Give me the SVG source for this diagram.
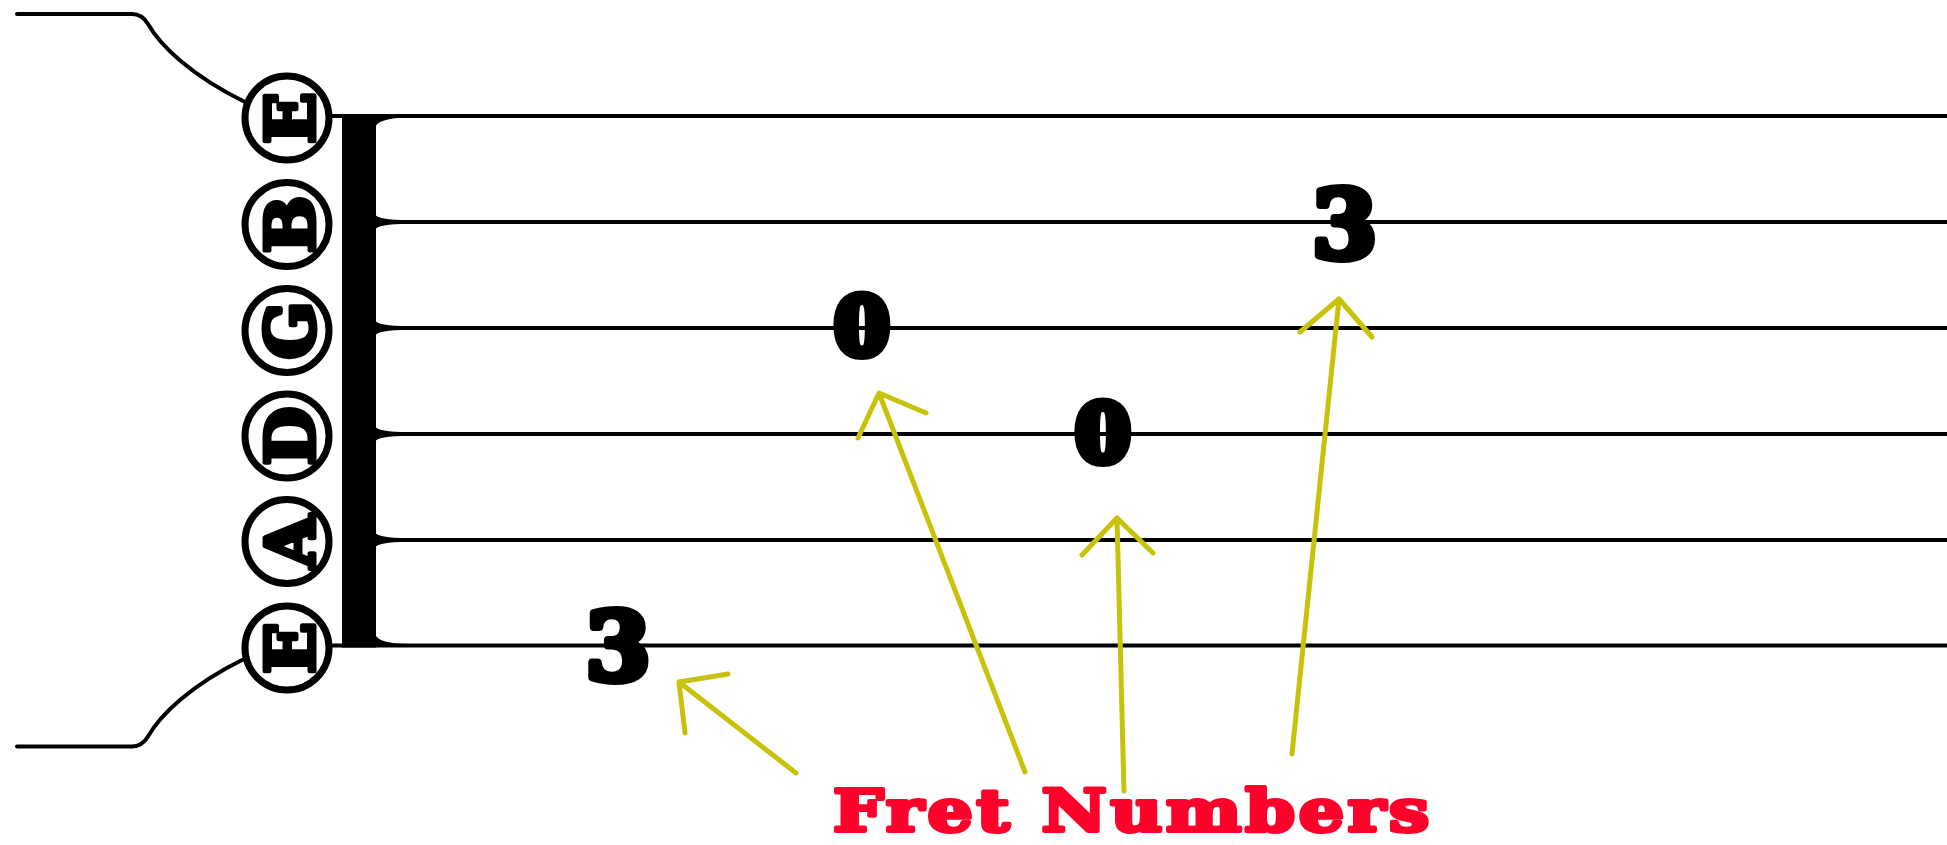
<svg xmlns="http://www.w3.org/2000/svg" width="1947" height="845" viewBox="0 0 1947 845">
  <style>
    .str { stroke: #000; stroke-width: 4; fill: none; }
    .tuner { stroke: #000; stroke-width: 4; fill: none; stroke-linecap: round; stroke-linejoin: round; }
    .ring { fill: #fff; stroke: #000; stroke-width: 7; }
    .note { font-family: "DejaVu Serif", "Liberation Serif", serif; font-weight: bold; fill: #000; stroke: #000; stroke-width: 5; stroke-linejoin: round; text-anchor: middle; font-size: 68px; }
    .fret { font-family: "DejaVu Serif", "Liberation Serif", serif; font-weight: bold; fill: #000; stroke: #000; stroke-linejoin: round; text-anchor: middle; }
    .arrow { stroke: #c8c30a; stroke-width: 5; fill: none; stroke-linecap: round; stroke-linejoin: round; }
    .label { font-family: "DejaVu Serif", "Liberation Serif", serif; font-weight: bold; fill: #ff002a; stroke: #ff002a; stroke-width: 4; stroke-linejoin: round; font-size: 58px; letter-spacing: 3px; }
  </style>
  <rect width="1947" height="845" fill="#fff"/>

  <g id="tuners">
    <path class="tuner" d="M17,14 L132,14 Q142,14 148,24 C160,45 190,75 245,102"/>
    <path class="tuner" d="M17,746.5 L132,746.5 Q142,746.5 148,736.5 C160,715.5 190,685.5 244,659"/>
  </g>

  <g id="strings">
    <line class="str" x1="330" y1="116" x2="1947" y2="116"/>
    <line class="str" x1="345" y1="222" x2="1947" y2="222"/>
    <line class="str" x1="345" y1="328" x2="1947" y2="328"/>
    <line class="str" x1="345" y1="434" x2="1947" y2="434"/>
    <line class="str" x1="345" y1="540" x2="1947" y2="540"/>
    <line class="str" x1="330" y1="645.5" x2="1947" y2="645.5"/>
  </g>

  <g id="nut">
    <rect x="342" y="114" width="34" height="533.5" fill="#000"/>
    <path fill="#000" d="M375,116 L375,128 Q377,118 408,117.5 L408,116 Z"/>
    <path fill="#000" d="M375,214 Q377,220 408,220.2 L408,223.8 Q377,224 375,230 Z"/>
    <path fill="#000" d="M375,320 Q377,326 408,326.2 L408,329.8 Q377,330 375,336 Z"/>
    <path fill="#000" d="M375,426 Q377,432 408,432.2 L408,435.8 Q377,436 375,442 Z"/>
    <path fill="#000" d="M375,532 Q377,538 408,538.2 L408,541.8 Q377,542 375,548 Z"/>
    <path fill="#000" d="M375,645.5 L375,633.5 Q377,643.5 408,644 L408,645.5 Z"/>
  </g>

  <g id="string-E-high">
    <circle class="ring" cx="287" cy="118" r="42"/>
    <text class="note" transform="translate(289,118) rotate(-90)" y="25">E</text>
  </g>
  <g id="string-B">
    <circle class="ring" cx="287" cy="224.5" r="42"/>
    <text class="note" transform="translate(289,224.5) rotate(-90)" y="25">B</text>
  </g>
  <g id="string-G">
    <circle class="ring" cx="287" cy="330.5" r="42"/>
    <text class="note" transform="translate(289,330.5) rotate(-90)" y="25">G</text>
  </g>
  <g id="string-D">
    <circle class="ring" cx="287" cy="436" r="42"/>
    <text class="note" transform="translate(289,436) rotate(-90)" y="25">D</text>
  </g>
  <g id="string-A">
    <circle class="ring" cx="287" cy="541.5" r="42"/>
    <text class="note" transform="translate(289,541.5) rotate(-90)" y="25">A</text>
  </g>
  <g id="string-E-low">
    <circle class="ring" cx="287" cy="648" r="42"/>
    <text class="note" transform="translate(289,648) rotate(-90)" y="25">E</text>
  </g>

  <g id="fret-3-low">
    <text class="fret" x="618" y="679.5" font-size="93" stroke-width="8">3</text>
  </g>
  <g id="fret-0-G">
    <text class="fret" x="862" y="354" font-size="78" stroke-width="10">0</text>
  </g>
  <g id="fret-0-D">
    <text class="fret" x="1103" y="460.5" font-size="78" stroke-width="10">0</text>
  </g>
  <g id="fret-3-B">
    <text class="fret" x="1344.5" y="258" font-size="93" stroke-width="8">3</text>
  </g>

  <g id="connectors">
    <path class="arrow" d="M796,773 L679,682 M685,733 L679,682 L728,674"/>
    <path class="arrow" d="M1025,772 L879,393 M858,438 L879,393 L926,413"/>
    <path class="arrow" d="M1124,791 L1117,518 M1082,555 L1117,518 L1153,553"/>
    <path class="arrow" d="M1292,754 L1339,299 M1300,332 L1339,299 L1372,337"/>
  </g>

  <g id="label">
    <text class="label" transform="translate(1133,831) scale(1.23,1)" x="0" y="0" text-anchor="middle">Fret Numbers</text>
  </g>
</svg>
